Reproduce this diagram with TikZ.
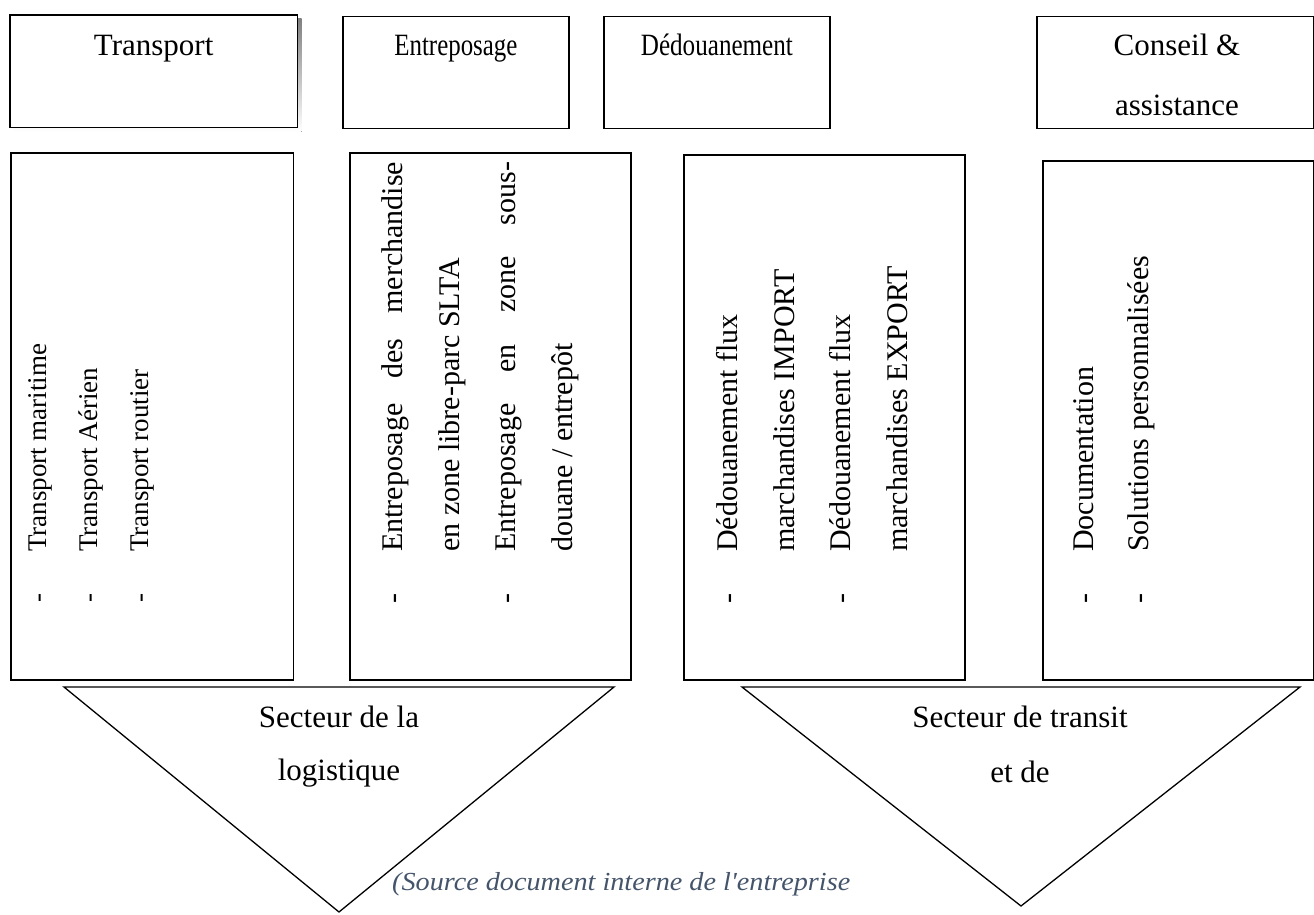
\documentclass[tikz,border=0pt]{standalone}
\usepackage{fontspec}
\usepackage{graphicx}
\setmainfont{Liberation Serif}
\newfontfamily\srcfont{Liberation Serif}[Ligatures=TeXOff]
\definecolor{srcblue}{HTML}{44546A}
\definecolor{shade}{HTML}{B8B8B8}

\begin{document}
\begin{tikzpicture}[x=1pt,y=-1pt,
  panel/.style={draw=black,line width=1.8pt,inner sep=0pt,anchor=north west,fill=white},
  tri/.style={draw=black,line width=1.3pt,line join=miter},
  head/.style={font=\fontsize{31}{37}\selectfont,inner sep=0pt,anchor=base},
  vtext/.style={font=\fontsize{30}{36}\selectfont,inner sep=0pt,rotate=90,anchor=base west},
  vsmall/.style={vtext,font=\fontsize{27}{32}\selectfont},
  bul/.style={font=\fontsize{30}{36}\selectfont,inner sep=0pt,rotate=90,anchor=base},
  bulsmall/.style={bul,font=\fontsize{27}{32}\selectfont}
]
\useasboundingbox (0,0) rectangle (1314,914);

% ---- service headings ----
\fill[shade] (13.5,18.5) rectangle (301.5,131.5);
\node[panel,minimum width=287.5pt,minimum height=112.5pt] (hT) at (9,14) {};
\node[panel,minimum width=226pt,minimum height=112pt] (hE) at (342,15.5) {};
\node[panel,minimum width=226pt,minimum height=112pt] (hD) at (603,15.5) {};
\node[panel,minimum width=277pt,minimum height=112pt] (hC) at (1036,15.5) {};

\node[head] (tT) at (hT.center |- 0,55) {Transport};
\node[head] (tE) at (hE.center |- 0,55) {\resizebox{123pt}{\height}{Entreposage}};
\node[head] (tD) at (hD.center |- 0,55) {\resizebox{152pt}{\height}{Dédouanement}};
\node[head] (tC1) at (1177,55) {Conseil \&};
\node[head] (tC2) at (1177,115) {assistance};

% ---- detail boxes ----
\node[panel,minimum width=282.5pt,minimum height=527pt] (b1) at (10,152) {};
\node[panel,minimum width=281pt,minimum height=527pt] (b2) at (349,152) {};
\node[panel,minimum width=281pt,minimum height=525pt] (b3) at (683,154) {};
\node[panel,minimum width=271pt,minimum height=519pt] (b4) at (1042,160) {};

% transport
\node[bulsmall] (d11) at (46,598) {-};
\node[bulsmall] (d12) at (97,598) {-};
\node[bulsmall] (d13) at (148,598) {-};
\node[vsmall] (l11) at (46,552) {Transport maritime};
\node[vsmall] (l12) at (97,552) {Transport Aérien};
\node[vsmall] (l13) at (148,552) {Transport routier};

% storage
\node[bul] (d21) at (402,598) {-};
\node[bul] (d23) at (515,598) {-};
\node[vtext] (l21) at (402,552) {\hbox to 390pt{Entreposage\hfill des\hfill merchandise}};
\node[vtext] (l22) at (459,552) {en zone libre-parc SLTA};
\node[vtext] (l23) at (515,552) {\hbox to 390pt{Entreposage\hfill en\hfill zone\hfill sous-}};
\node[vtext] (l24) at (572,552) {douane / entrepôt};

% customs
\node[bul] (d31) at (737,598) {-};
\node[bul] (d33) at (850,598) {-};
\node[vtext] (l31) at (737,552) {Dédouanement flux};
\node[vtext] (l32) at (794,552) {marchandises IMPORT};
\node[vtext] (l33) at (850,552) {Dédouanement flux};
\node[vtext] (l34) at (907,552) {marchandises EXPORT};

% advice
\node[bul] (d41) at (1093,598) {-};
\node[bul] (d42) at (1148,598) {-};
\node[vtext] (l41) at (1093,552) {Documentation};
\node[vtext] (l42) at (1148,552) {Solutions personnalisées};

% ---- sectors ----
\coordinate (s1a) at (64,687);
\coordinate (s1b) at (614,687);
\coordinate (s1c) at (339,912);
\draw[tri,fill=white] (s1a) -- (s1b) -- (s1c) -- cycle;
\coordinate (s2a) at (742,687);
\coordinate (s2b) at (1300,687);
\coordinate (s2c) at (1021,906);
\draw[tri,fill=white] (s2a) -- (s2b) -- (s2c) -- cycle;

\node[head] (k1a) at (339,727) {Secteur de la};
\node[head] (k1b) at (339,780) {logistique};
\node[head] (k2a) at (1020,727) {Secteur de transit};
\node[head] (k2b) at (1020,782) {et de};

% ---- source line ----
\node[font=\fontsize{26}{30}\selectfont\srcfont\itshape,text=srcblue,inner sep=0pt,anchor=base west]
  (src) at (392,890) {\resizebox{458pt}{\height}{(Source document interne de l'entreprise}};
\end{tikzpicture}
\end{document}
